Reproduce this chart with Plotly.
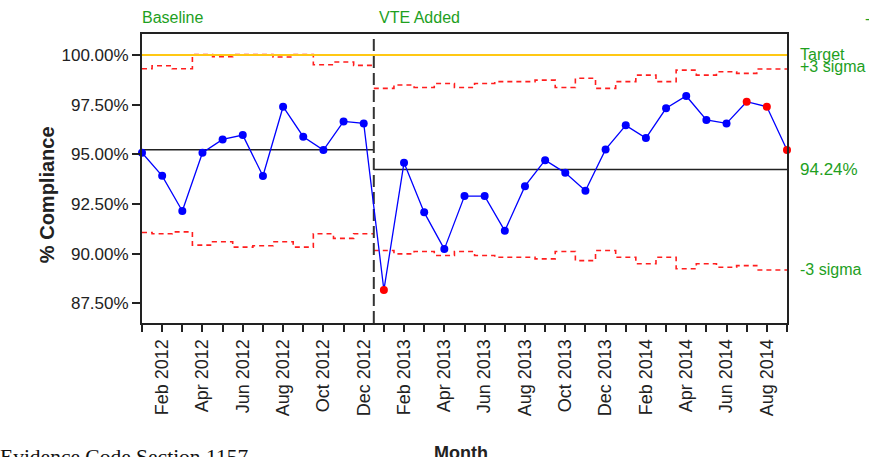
import plotly.graph_objects as go

# ---------------- data ----------------
months = ["Jan 2012", "Feb 2012", "Mar 2012", "Apr 2012", "May 2012", "Jun 2012",
          "Jul 2012", "Aug 2012", "Sep 2012", "Oct 2012", "Nov 2012", "Dec 2012",
          "Jan 2013", "Feb 2013", "Mar 2013", "Apr 2013", "May 2013", "Jun 2013",
          "Jul 2013", "Aug 2013", "Sep 2013", "Oct 2013", "Nov 2013", "Dec 2013",
          "Jan 2014", "Feb 2014", "Mar 2014", "Apr 2014", "May 2014", "Jun 2014",
          "Jul 2014", "Aug 2014", "Sep 2014"]

compliance = [95.08, 93.92, 92.15, 95.08, 95.75, 95.97, 93.91, 97.40, 95.89, 95.22, 96.66, 96.56,
              88.17, 94.58, 92.08, 90.23, 92.90, 92.90, 91.15, 93.40, 94.71, 94.07, 93.17, 95.25,
              96.46, 95.82, 97.32, 97.94, 96.73, 96.56, 97.65, 97.40, 95.22]

# points flagged as special cause (red)
special = [False] * 12 + [True] + [False] * 17 + [True, True, True]

ucl = [99.31, 99.46, 99.31, 100.02, 99.92, 100.02, 100.02, 99.90, 100.02, 99.51, 99.65, 99.48,
       98.32, 98.49, 98.37, 98.57, 98.37, 98.57, 98.66, 98.66, 98.74, 98.37, 98.83, 98.32,
       98.66, 98.99, 98.66, 99.24, 98.99, 99.16, 99.08, 99.30, 99.30]

lcl = [91.07, 91.00, 91.10, 90.43, 90.60, 90.33, 90.40, 90.60, 90.33, 91.00, 90.77, 91.00,
       90.16, 89.99, 90.11, 89.91, 90.11, 89.91, 89.82, 89.82, 89.74, 90.11, 89.65, 90.16,
       89.82, 89.49, 89.82, 89.24, 89.49, 89.32, 89.40, 89.18, 89.18]

phase_names = ["Baseline", "VTE Added"]
phase_lengths = [12, 21]
center_lines = [95.23, 94.24]
target = 100.0

y_ticks = [87.5, 90.0, 92.5, 95.0, 97.5, 100.0]

# ---------------- styling ----------------
FONT = "Liberation Sans, Arial, sans-serif"
GREEN = "rgb(30,160,30)"
INK = "#222222"
Y_RANGE = [86.51, 101.06]

x_idx = list(range(len(months)))
fig = go.Figure()

# phase boundaries in index units
starts = [0]
for n in phase_lengths[:-1]:
    starts.append(starts[-1] + n)
ends = [s + n for s, n in zip(starts, phase_lengths)]
n_last = len(months) - 1

# control limits (step lines) and center lines per phase
for p, (s, e) in enumerate(zip(starts, ends)):
    x0 = s - 0.5 if s > 0 else 0
    x1 = e - 0.5 if e <= n_last else n_last
    xs = [x0] + [i + 0.5 for i in range(s, e - 1)] + [x1]
    for lim in (ucl, lcl):
        ys = lim[s:e] + [lim[e - 1]]
        fig.add_trace(go.Scatter(x=xs, y=ys, mode="lines", line_shape="hv",
                                 line=dict(color="rgb(255,30,30)", width=1.6, dash="5px,4px"),
                                 hoverinfo="skip", showlegend=False))
    fig.add_trace(go.Scatter(x=[x0, x1], y=[center_lines[p]] * 2, mode="lines",
                             line=dict(color=INK, width=1.4), hoverinfo="skip", showlegend=False))

# target line
fig.add_trace(go.Scatter(x=[0, n_last], y=[target, target], mode="lines",
                         line=dict(color="rgb(255,200,20)", width=2),
                         hoverinfo="skip", showlegend=False))

# phase divider(s)
for s in starts[1:]:
    fig.add_trace(go.Scatter(x=[s - 0.5, s - 0.5], y=Y_RANGE, mode="lines",
                             line=dict(color="#333333", width=2, dash="12px,5px"),
                             hoverinfo="skip", showlegend=False, cliponaxis=False))

# data line
fig.add_trace(go.Scatter(x=x_idx, y=compliance, mode="lines+markers",
                         line=dict(color="rgb(0,0,255)", width=1.3),
                         marker=dict(size=8, color=["rgb(255,0,0)" if f else "rgb(0,0,255)" for f in special]),
                         cliponaxis=False, showlegend=False))

tick_text = [m if i % 2 == 1 else "" for i, m in enumerate(months)]

fig.update_layout(
    width=869, height=457,
    margin=dict(l=142, r=82, t=34, b=134),
    paper_bgcolor="white", plot_bgcolor="white",
    font=dict(family=FONT, size=16, color=INK),
    showlegend=False,
    xaxis=dict(range=[0, n_last], tickmode="array", tickvals=x_idx, ticktext=tick_text,
               tickangle=-90, ticks="outside", ticklen=7, tickwidth=1.5, tickcolor=INK,
               showgrid=False, zeroline=False, showline=True, linewidth=2, linecolor=INK,
               mirror=True, automargin=False, tickfont=dict(family=FONT, size=18, color=INK)),
    yaxis=dict(range=Y_RANGE, tickmode="array", tickvals=y_ticks,
               ticktext=[f"{v:.2f}%" for v in y_ticks],
               ticks="outside", ticklen=8, tickwidth=1.5, tickcolor=INK,
               showgrid=False, zeroline=False, showline=True, linewidth=2, linecolor=INK,
               mirror=True, automargin=False, tickfont=dict(family=FONT, size=17, color=INK)),
)

ann = []
# phase labels
for p, s in enumerate(starts):
    ann.append(dict(x=(s - 0.5) / n_last if s > 0 else 0, xshift=3 if s > 0 else -2,
                    y=1.0588, xref="paper", yref="paper",
                    text=phase_names[p], showarrow=False, xanchor="left", yanchor="middle",
                    font=dict(family=FONT, size=16, color=GREEN)))
# right-side labels
ann.append(dict(x=1, xshift=11, y=target, yshift=1, xref="paper", yref="y", text="Target",
                showarrow=False, xanchor="left", yanchor="middle",
                font=dict(family=FONT, size=16, color=GREEN)))
ann.append(dict(x=1, xshift=11, y=ucl[-1], yshift=2, xref="paper", yref="y", text="+3 sigma",
                showarrow=False, xanchor="left", yanchor="middle",
                font=dict(family=FONT, size=16, color=GREEN)))
ann.append(dict(x=1, xshift=11, y=center_lines[-1], xref="paper", yref="y",
                text=f"{center_lines[-1]:.2f}%", showarrow=False, xanchor="left", yanchor="middle",
                font=dict(family=FONT, size=17, color=GREEN)))
ann.append(dict(x=1, xshift=11, y=lcl[-1], xref="paper", yref="y", text="-3 sigma",
                showarrow=False, xanchor="left", yanchor="middle",
                font=dict(family=FONT, size=16, color=GREEN)))
# axis titles
ann.append(dict(x=-0.147, y=0.443, xref="paper", yref="paper", text="<b>% Compliance</b>",
                textangle=-90, showarrow=False, xanchor="center", yanchor="middle",
                font=dict(family=FONT, size=20, color=INK)))
ann.append(dict(x=0.4946, y=-0.408, xref="paper", yref="paper", text="<b>Month</b>",
                showarrow=False, xanchor="center", yanchor="top",
                font=dict(family=FONT, size=18, color=INK)))
ann.append(dict(x=-0.2202, xshift=-2, y=-0.415, xref="paper", yref="paper",
                text="Evidence Code Section 1157", showarrow=False, xanchor="left", yanchor="top",
                font=dict(family="Liberation Serif, Times New Roman, serif", size=21.5, color="#111111")))
# cut-off legend fragment at the right edge
ann.append(dict(x=1, xshift=76, y=1.055, xref="paper", yref="paper", text="-",
                showarrow=False, xanchor="left", yanchor="middle",
                font=dict(family=FONT, size=16, color=GREEN)))
fig.update_layout(annotations=ann)

fig.write_html("out.html", config={"displayModeBar": False},
               post_script="document.body.style.margin='0';document.body.style.padding='0';")
